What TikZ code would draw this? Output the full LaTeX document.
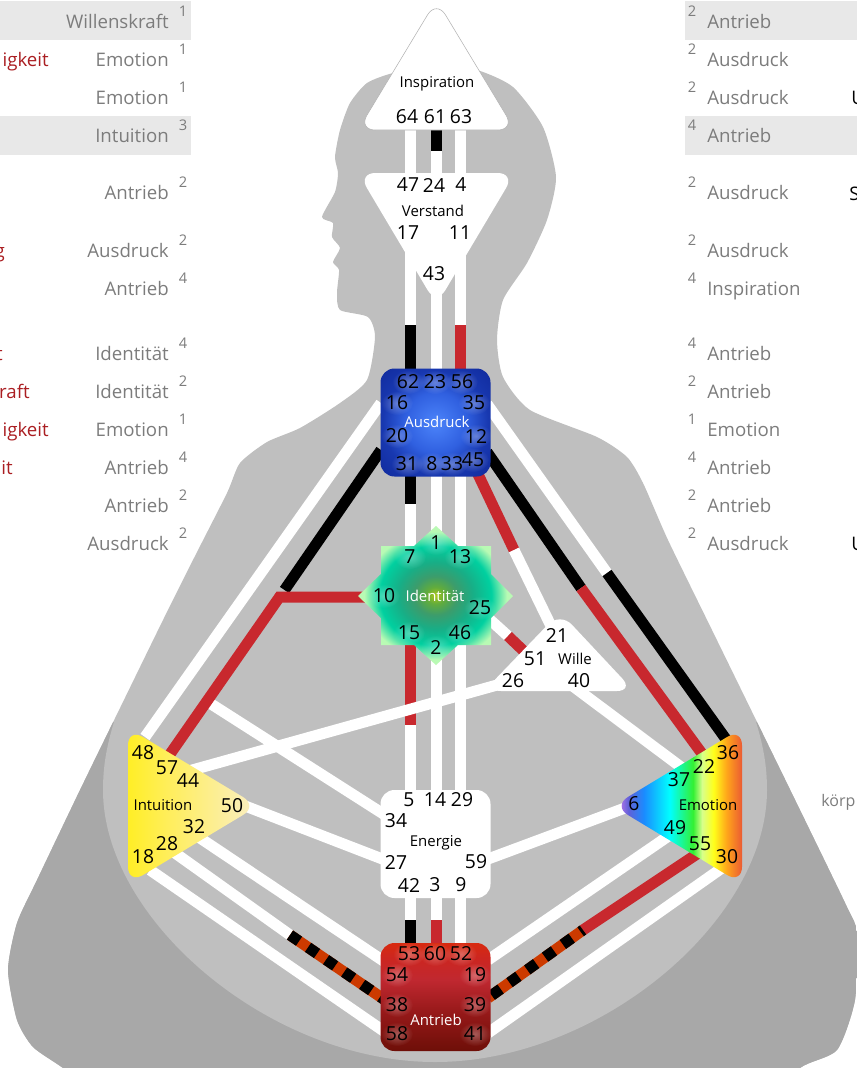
\documentclass[tikz,border=0pt]{standalone}
\usepackage{fontspec}
\setmainfont{Open Sans}
\usetikzlibrary{fadings}
\definecolor{bodymid}{HTML}{BFBFBF}
\definecolor{bodydark}{HTML}{A8A8A8}
\definecolor{chred}{HTML}{C8282E}
\definecolor{chorange}{HTML}{CC3A00}
\definecolor{lab}{HTML}{7C7C7C}
\definecolor{rowbg}{HTML}{E8E8E8}
\definecolor{redtxt}{HTML}{AA1E22}
% blue centre
\definecolor{ba}{HTML}{4C84FA}
\definecolor{bb}{HTML}{3060E0}
\definecolor{bc}{HTML}{1838B0}
\definecolor{bd}{HTML}{102A9C}
% green centre
\definecolor{ga}{HTML}{ACC81C}
\definecolor{gb}{HTML}{62AC3C}
\definecolor{gc}{HTML}{3C9C6C}
\definecolor{gd}{HTML}{18AE86}
\definecolor{ge}{HTML}{00D0A0}
\definecolor{gf}{HTML}{B8FAB4}
\definecolor{gg}{HTML}{D8FFC0}
% red centre
\definecolor{ra}{HTML}{6E0F08}
\definecolor{rb}{HTML}{941818}
\definecolor{rc}{HTML}{C02830}
\definecolor{rd}{HTML}{CC2620}
\definecolor{re}{HTML}{D82A10}
% yellow centre
\definecolor{ya}{HTML}{FFEE26}
\definecolor{yb}{HTML}{FFEE5A}
\definecolor{yc}{HTML}{FAEEC6}
% emotion centre
\definecolor{ea}{HTML}{A873E6}
\definecolor{eb}{HTML}{6060D8}
\definecolor{ec}{HTML}{1A8CFF}
\definecolor{ed}{HTML}{00FFFF}
\definecolor{ee}{HTML}{33F033}
\definecolor{ef}{HTML}{D8FF8C}
\definecolor{eg}{HTML}{FFFF1A}
\definecolor{eh}{HTML}{FFA61A}
\definecolor{ei}{HTML}{EB5A33}
\pgfdeclareradialshading{blueglow}{\pgfpoint{0bp}{0bp}}{color(0bp)=(ba); color(14bp)=(bb); color(24bp)=(bc); color(36bp)=(bd); color(50bp)=(bd)}
\pgfdeclareradialshading{stargreen}{\pgfpoint{0bp}{0bp}}{color(0bp)=(ga); color(3bp)=(gb); color(7bp)=(gc); color(12bp)=(gd); color(18bp)=(ge); color(23bp)=(gf); color(50bp)=(gg)}
\pgfdeclareverticalshading{redbox}{100bp}{color(0bp)=(ra); color(25bp)=(ra); color(42bp)=(rb); color(58bp)=(rc); color(68bp)=(rd); color(75bp)=(re); color(100bp)=(re)}
\pgfdeclarehorizontalshading{yellowfade}{100bp}{color(0bp)=(ya); color(25bp)=(ya); color(40bp)=(yb); color(75bp)=(yc); color(100bp)=(yc)}
\pgfdeclarehorizontalshading{rainbow}{100bp}{color(0bp)=(ea); color(28bp)=(ea); color(31bp)=(eb); color(37bp)=(ec); color(47bp)=(ed); color(56bp)=(ee); color(59.5bp)=(ef); color(64bp)=(eg); color(69bp)=(eh); color(75bp)=(ei); color(100bp)=(ei)}
\tikzfading[name=glow, inner color=transparent!70, outer color=transparent!100]
\tikzset{
  chan/.style={line width=8.25pt, white},
  chanblack/.style={line width=8.25pt, black},
  chanred/.style={line width=8.25pt, chred},
  chanorange/.style={line width=8.25pt, chorange},
  chandash/.style={line width=8.25pt, black, dash pattern=on 8.2pt off 8.2pt},
  gatenum/.style={inner sep=0pt, font=\fontsize{14.5}{15}\selectfont, text=black},
  centername/.style={inner sep=0pt, font=\fontsize{11.2}{12}\selectfont},
  sidelabel/.style={inner sep=0pt, font=\fontsize{14}{15}\selectfont, text=lab},
  sidenum/.style={inner sep=0pt, font=\fontsize{11}{12}\selectfont, text=lab},
  redlabel/.style={inner sep=0pt, font=\fontsize{14}{15}\selectfont, text=redtxt},
  blacklabel/.style={inner sep=0pt, font=\fontsize{14}{15}\selectfont, text=black},
  squarecenter/.style={minimum width=82.5pt, minimum height=81pt, rounded corners=10.5pt, inner sep=0pt},
  haloblob/.style={white, path fading=glow},
  trianglecorner/.style={rounded corners=13pt},
}
\begin{document}
\begin{tikzpicture}[x=0.75pt,y=-0.75pt]
\useasboundingbox (0,0) rectangle (857,1068);
\clip (0,0) rectangle (857,1068);
% row backgrounds
\fill[rowbg] (0,1) rectangle (191,40);
\fill[rowbg] (0,116) rectangle (191,155);
\fill[rowbg] (685,1) rectangle (857,40);
\fill[rowbg] (685,116) rectangle (857,155);
% body
\begin{scope}
\path[clip] plot[smooth cycle, tension=0.4] coordinates {
 (393,73) (367,83) (350,103) (340,130) (335,157) (338,173) (335,192) (322,217) (333,223) (332,237) (340,248) (333,262) (339,270) (337,293) (340,310) (368,317) (375,337) (367,380) (340,403) (300,428) (267,442) (240,463) (227,493) (195,556) (163,620) (120,708) (80,790) (37,880) (17,923) (8,970) (17,1020) (33,1047) (63,1068) (120,1110) (435,1130) (760,1110) (800,1068) (837,1050) (855,1000) (857,933) (847,907) (800,810) (757,722) (712,630) (668,540) (643,483) (627,457) (597,437) (530,410) (503,377) (497,340) (503,300) (527,263) (547,220) (556,177) (543,127) (513,87) (477,70) (436,65)};
\fill[bodymid] (0,0) rectangle (857,1068);
\fill[bodydark] (0,722) rectangle (857,1068);
\fill[bodymid] (103,790) .. controls (103,920) and (270,1062) .. (435,1062) .. controls (600,1062) and (767,920) .. (767,790) .. controls (767,765) and (763,745) .. (756,722) -- (114,722) .. controls (107,745) and (103,765) .. (103,790) -- cycle;
\end{scope}
% channel anchors
\foreach \n/\x/\y in {64/410.5/125,47/410.5/178,61/436.5/125,24/436.5/178,63/460.5/125,4/460.5/178,
 17/410.5/240,62/410.5/372,43/436.5/280,23/436.5/372,11/460.5/240,56/460.5/372,
 31/410.5/474,7/410.5/552,8/436.5/474,1/436.5/540,33/460.5/474,13/460.5/552,
 15/410.5/640,5/410.5/795,2/436.5/660,14/436.5/795,46/460.5/640,29/460.5/795,
 42/410.5/893,53/410.5/950,3/436.5/893,60/436.5/950,9/460.5/893,52/460.5/950,
 16/381/403,48/145/737,20/381/450,57/168/757,10/365/597,
 35/487/404,36/728/742,12/487/452,22/703/755,45/476/470,21/552/628,
 25/487/617,51/530/657,26/515/680,44/185/772,40/570/684,37/685/770,
 34/385/815,50/240/804,27/385/860,32/200/838,54/385/962,28/175/853,38/385/1000,
 18/150/870,58/385/1032,59/488/859,6/625/808,49/670/835,19/488/960,55/700/852,39/488/998,30/722/868,41/488/1033}
 {\coordinate (p\n) at (\x,\y);}
% points where a channel changes colour, and free ends
\coordinate (m61) at (436.5,151);
\coordinate (m17) at (410.5,325);
\coordinate (m11) at (460.5,325);
\coordinate (m31) at (410.5,504);
\coordinate (m15) at (410.5,725);
\coordinate (m42) at (410.5,920);
\coordinate (m3) at (436.5,920);
\coordinate (m20) at (284.5,590);
\coordinate (e10) at (279.5,597);
\coordinate (m35) at (607,573);
\coordinate (m12) at (581,588);
\coordinate (m45) at (514,550);
\coordinate (m25) at (508,636);
\coordinate (e34) at (208,702);
\coordinate (m28) at (290,935);
\coordinate (m55) at (583,930);
% channels
\draw[chan] (p64) -- (p47);
\draw[chan] (p63) -- (p4);
\draw[chan] (p61) -- (p24);
\draw[chanblack] (p61) -- (m61);
\draw[chan] (p17) -- (p62);
\draw[chanblack] (m17) -- (p62);
\draw[chan] (p43) -- (p23);
\draw[chan] (p11) -- (p56);
\draw[chanred] (m11) -- (p56);
\draw[chan] (p31) -- (p7);
\draw[chanblack] (p31) -- (m31);
\draw[chan] (p8) -- (p1);
\draw[chan] (p33) -- (p13);
\draw[chan] (p15) -- (p5);
\draw[chanred] (p15) -- (m15);
\draw[chan] (p2) -- (p14);
\draw[chan] (p46) -- (p29);
\draw[chan] (p42) -- (p53);
\draw[chanblack] (m42) -- (p53);
\draw[chan] (p3) -- (p60);
\draw[chanred] (m3) -- (p60);
\draw[chan] (p9) -- (p52);
\draw[chan] (p16) -- (p48);
\draw[chan] (e34) -- (p34);
\draw[chanblack] (p20) -- (m20);
\draw[chanred,miter limit=4] (p10) -- (e10) -- (p57);
\draw[chan] (p35) -- (m35);
\draw[chanblack] (m35) -- (p36);
\draw[chanblack] (p12) -- (m12);
\draw[chanred] (m12) -- (p22);
\draw[chanred] (p45) -- (m45);
\draw[chan] (m45) -- (p21);
\draw[chan] (p25) -- (m25);
\draw[chanred] (m25) -- (p51);
\draw[chan] (p26) -- (p44);
\draw[chan] (p40) -- (p37);
\draw[chan] (p50) -- (p27);
\draw[chan] (p32) -- (p54);
\draw[chan] (p28) -- (m28);
\draw[chanorange] (m28) -- (p38);
\draw[chandash] (m28) -- (p38);
\draw[chan] (p18) -- (p58);
\draw[chan] (p59) -- (p6);
\draw[chan] (p49) -- (p19);
\draw[chanred] (p55) -- (m55);
\draw[chanorange] (m55) -- (p39);
\draw[chandash, dash phase=6pt] (m55) -- (p39);
\draw[chan] (p30) -- (p41);
% triangular centres
\draw[fill=white, draw=black!30, line width=0.4pt, trianglecorner] (436.5,0) -- (515,130) -- (358,130) -- cycle;
\fill[white, trianglecorner] (358,173) -- (515,173) -- (436.5,305) -- cycle;
\fill[white, trianglecorner] (560,612) -- (634,691) -- (484,691) -- cycle;
\shade[shading=yellowfade, trianglecorner] (128,728) -- (258,806) -- (128,884) -- cycle;
\shade[shading=rainbow, trianglecorner] (742,728) -- (742,884) -- (613,806) -- cycle;
% square centres
\node[squarecenter, shade, shading=blueglow] (ausdruck) at (435.5,422.5) {};
\shade[shading=stargreen] (436,526) -- (458,546) -- (491,546) -- (491,574) -- (513,596) -- (491,618) -- (491,645) -- (458,645) -- (436,665) -- (414,645) -- (381,645) -- (381,618) -- (358,596) -- (381,574) -- (381,546) -- (414,546) -- cycle;
\node[squarecenter, fill=white] (energie) at (435.5,844) {};
\node[squarecenter, shade, shading=redbox] (antrieb) at (435.5,997) {};
% halos behind numbers
\foreach \x/\y in {408/382,435/382,462/382,397/403,474/403,397/436,476/436,407/464,432/464,452/464,473/460,
 436/543,410/557,460/557,384/596,480/608,409/633,460/633,436/647,
 409/954,435/954,461/954,397/975,475/975,397/1005,475/1005,397/1034,475/1034}
 {\fill[haloblob] (\x,\y) ellipse (16 and 12);}
% gate numbers
\foreach \n/\x/\y in {64/407/117,61/435/117,63/461/117,47/408/185,24/434/185,4/461/185,17/408/233,11/460/233,43/434/274,
 62/408/382,23/435/382,56/462/382,16/397/403,35/474/403,20/397/436,12/476/436,31/407/464,8/432/464,33/452/464,45/473/460,
 1/436/543,7/410/557,13/460/557,10/384/596,25/480/608,15/409/633,46/460/633,2/436/647,
 21/557/635,51/535/659,26/513/681,40/579/681,
 48/143/753,57/167/768,44/188/781,50/232/806,32/194/827,28/167/844,18/143/857,
 36/728/753,22/704/766,37/679/780,6/634/804,49/675/828,55/700/844,30/727/857,
 5/409/800,14/435/800,29/462/800,34/396/821,27/396/862,59/476/862,42/409/885,3/435/885,9/461/885,
 53/409/954,60/435/954,52/461/954,54/397/975,19/475/975,38/397/1005,39/475/1005,58/397/1034,41/475/1034}
 {\node[gatenum] (g\n) at (\x,\y) {\n};}
% centre names
\node[centername] (inspiration) at (437,84) {Inspiration};
\node[centername] (verstand) at (433,211) {Verstand};
\node[centername, text=white] (ausdrucklabel) at (437,422) {Ausdruck};
\node[centername, text=white] (identitaet) at (435,596) {Identität};
\node[centername] (wille) at (575,659) {Wille};
\node[centername] (intuition) at (163,805) {Intuition};
\node[centername] (emotion) at (708,805) {Emotion};
\node[centername] (energielabel) at (436,843) {Energie};
\node[centername, text=white] (antrieblabel) at (436,1020) {Antrieb};
% left list
\foreach \i/\t/\n/\y in {a/Willenskraft/1/21,b/Emotion/1/59,c/Emotion/1/97,d/Intuition/3/135,e/Antrieb/2/192,f/Ausdruck/2/250,g/Antrieb/4/288,h/Identität/4/353,i/Identität/2/391,j/Emotion/1/429,k/Antrieb/4/467,l/Antrieb/2/505,m/Ausdruck/2/543}
 {\node[sidelabel, anchor=base east] (ll\i) at (169,\y+7) {\t};
  \node[sidenum] (ln\i) at (183,\y-10) {\n};}
% right list
\foreach \i/\t/\n/\y in {a/Antrieb/2/21,b/Ausdruck/2/59,c/Ausdruck/2/97,d/Antrieb/4/135,e/Ausdruck/2/192,f/Ausdruck/2/250,g/Inspiration/4/288,h/Antrieb/4/353,i/Antrieb/2/391,j/Emotion/1/429,k/Antrieb/4/467,l/Antrieb/2/505,m/Ausdruck/2/543}
 {\node[sidelabel, anchor=base west] (rl\i) at (707,\y+7) {\t};
  \node[sidenum] (rn\i) at (692,\y-10) {\n};}
% clipped texts at the edges
\node[redlabel, anchor=base east] (la) at (49,66) {igkeit};
\node[redlabel, anchor=base east] (lb) at (5,257) {g};
\node[redlabel, anchor=base east] (lc) at (3,360) {t};
\node[redlabel, anchor=base east] (ld) at (30,398) {raft};
\node[redlabel, anchor=base east] (le) at (49,436) {igkeit};
\node[redlabel, anchor=base east] (lf) at (13,474) {it};
\node[blacklabel, anchor=base west] (ua) at (851,104) {U};
\node[blacklabel, anchor=base west] (ub) at (849,200) {S};
\node[blacklabel, anchor=base west] (uc) at (851,550) {U};
\node[sidelabel, anchor=base west, font=\fontsize{12}{13}\selectfont] (koerp) at (821,806) {körp};
\end{tikzpicture}
\end{document}
